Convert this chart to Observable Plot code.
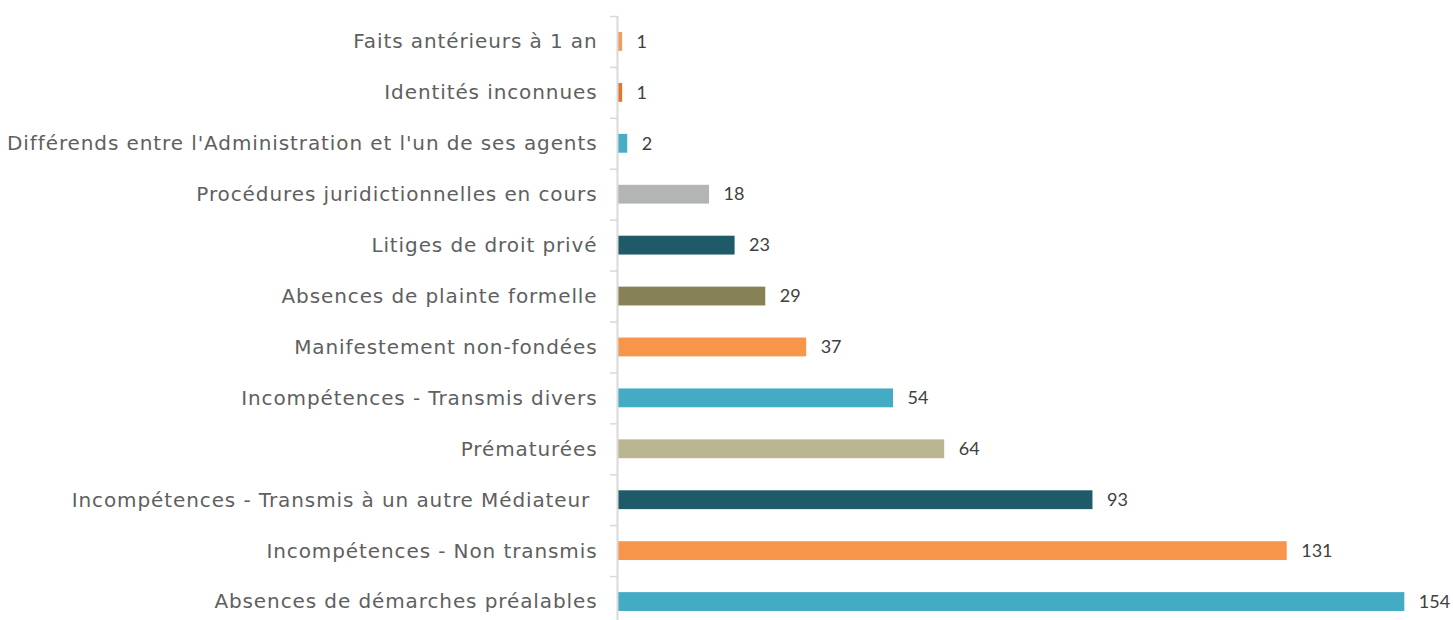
<!DOCTYPE html>
<html><head><meta charset="utf-8">
<script src="https://cdn.jsdelivr.net/npm/d3@7"></script>
<script src="https://cdn.jsdelivr.net/npm/@observablehq/plot@0.6"></script>
<style>html,body{margin:0;padding:0;background:#fff;overflow:hidden;height:620px}
g[aria-label="y-axis tick label"] text{letter-spacing:0.9px}</style>
</head><body><div id="chart"></div>
<script>
const categories = [
  "Faits antérieurs à 1 an",
  "Identités inconnues",
  "Différends entre l'Administration et l'un de ses agents",
  "Procédures juridictionnelles en cours",
  "Litiges de droit privé",
  "Absences de plainte formelle",
  "Manifestement non-fondées",
  "Incompétences - Transmis divers",
  "Prématurées",
  "Incompétences - Transmis à un autre Médiateur\u00a0",
  "Incompétences - Non transmis",
  "Absences de démarches préalables"
];
const values = [1, 1, 2, 18, 23, 29, 37, 54, 64, 93, 131, 154];
const barColors = ["#F59B58", "#E8732A", "#45ADC4", "#B3B5B5", "#1F5A68", "#878156", "#F7964B", "#43ACC4", "#BAB692", "#1F5A68", "#F7964B", "#43ACC4"];

const data = categories.map((c, i) => ({category: c, value: values[i]}));
const step = (627 - 16) / categories.length;

const plot = Plot.plot({
  width: 1453,
  height: 627,
  marginTop: 16,
  marginBottom: 0,
  marginLeft: 617,
  marginRight: 18,
  style: {fontFamily: "'DejaVu Sans', sans-serif", background: "#fff"},
  x: {domain: [0, 160], axis: null},
  y: {domain: categories, paddingInner: 0.63, paddingOuter: 0.315, round: false, axis: null},
  color: {domain: categories, range: barColors},
  marks: [
    Plot.barX(data, {x: "value", y: "category", fill: "category", insetLeft: 1}),
    Plot.axisY({tickSize: 0, tickPadding: 20, fontSize: 20, color: "#5f5f5f", label: null}),
    Plot.axisY({tickSize: 7, tickFormat: () => "", label: null, dy: -step / 2, stroke: "#d9d9d9", strokeWidth: 1.5}),
    Plot.ruleX([0], {stroke: "#d9d9d9", strokeWidth: 2}),
    Plot.text(data, {x: "value", y: "category", text: d => String(d.value), dx: 14, textAnchor: "start", fontSize: 18, fill: "#404040", fontFamily: "Lato, sans-serif"})
  ]
});
document.getElementById("chart").appendChild(plot);
</script>
</body></html>
